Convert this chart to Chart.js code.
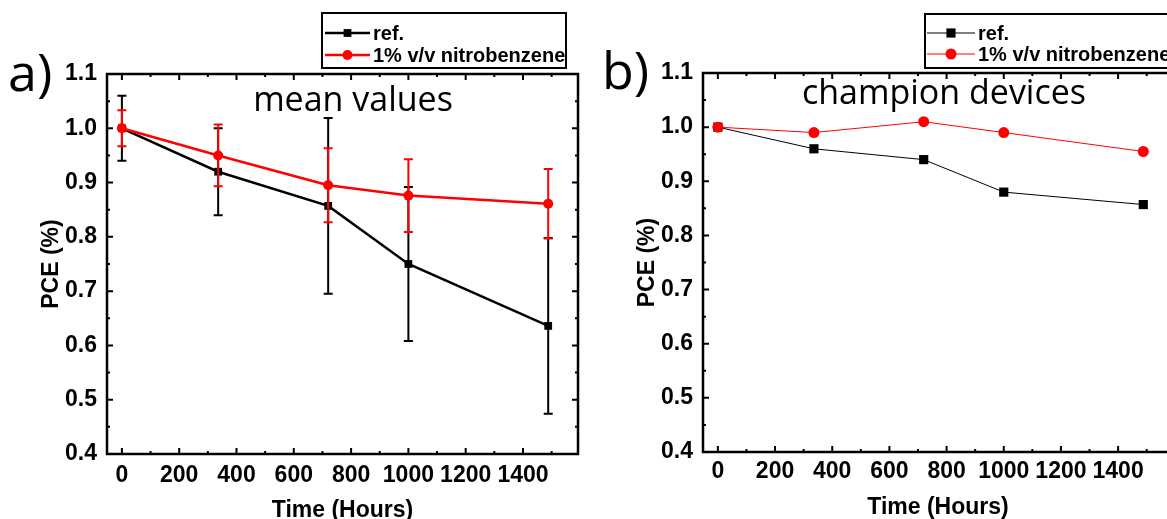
<!DOCTYPE html>
<html><head><meta charset="utf-8">
<script src="https://cdn.jsdelivr.net/npm/chart.js@4.4.0/dist/chart.umd.min.js"></script>
<style>
html,body{margin:0;padding:0;background:#fff;overflow:hidden;width:1167px;height:519px;position:relative;}
.wrap{position:absolute;top:0;}
#wa{left:0;width:590px;height:540px;}
#wb{left:590px;width:600px;height:540px;}
canvas{display:block;}
</style></head><body>
<div id="wa" class="wrap"><canvas id="ca" width="590" height="540"></canvas></div>
<div id="wb" class="wrap"><canvas id="cb" width="600" height="540"></canvas></div>
<script>
// ---- data ----
const timeHours = [0, 336, 720, 1000, 1488];
const meanRef = [1.0, 0.92, 0.857, 0.75, 0.636];
const meanRefErr = [0.06, 0.08, 0.162, 0.142, 0.162];
const meanNB = [1.0, 0.95, 0.895, 0.876, 0.861];
const meanNBErr = [0.033, 0.057, 0.068, 0.067, 0.064];
const champRef = [1.0, 0.96, 0.94, 0.88, 0.857];
const champNB = [1.0, 0.99, 1.01, 0.99, 0.955];
const seriesNames = ['ref.', '1% v/v nitrobenzene'];
const xTickValues = [0, 200, 400, 600, 800, 1000, 1200, 1400];
const yTickValues = [0.4, 0.5, 0.6, 0.7, 0.8, 0.9, 1.0, 1.1];
const xTitle = 'Time (Hours)';
const yTitle = 'PCE (%)';

const SANS = '"Liberation Sans", Arial, sans-serif';
const RED = '#ff0000';

function pts(ys) { return timeHours.map((x, i) => ({x: x, y: ys[i]})); }

function drawMarker(ctx, style, x, y, r, color) {
  ctx.save();
  ctx.fillStyle = color;
  if (style === 'rect') {
    const s = r * Math.SQRT1_2;
    ctx.fillRect(x - s, y - s, 2 * s, 2 * s);
  } else {
    ctx.beginPath(); ctx.arc(x, y, r, 0, Math.PI * 2); ctx.fill();
  }
  ctx.restore();
}

const errorBarPlugin = {
  id: 'errorBars',
  beforeDatasetDraw(chart, args) {
    const ds = chart.data.datasets[args.index];
    if (!ds.errors) return;
    const ctx = chart.ctx, xs = chart.scales.x, ys = chart.scales.y;
    ctx.save();
    ctx.strokeStyle = ds.borderColor;
    ctx.lineWidth = 2;
    ds.data.forEach((p, i) => {
      const e = ds.errors[i];
      const px = xs.getPixelForValue(p.x);
      const y1 = ys.getPixelForValue(p.y + e), y2 = ys.getPixelForValue(p.y - e);
      ctx.beginPath();
      ctx.moveTo(px, y1); ctx.lineTo(px, y2);
      ctx.moveTo(px - 4.5, y1); ctx.lineTo(px + 4.5, y1);
      ctx.moveTo(px - 4.5, y2); ctx.lineTo(px + 4.5, y2);
      ctx.stroke();
    });
    ctx.restore();
  }
};

const framePlugin = {
  id: 'frame',
  afterDatasetsDraw(chart) {
    const ctx = chart.ctx, a = chart.chartArea, xs = chart.scales.x, ys = chart.scales.y;
    ctx.save();
    ctx.strokeStyle = '#000';
    ctx.lineWidth = 2.5;
    ctx.strokeRect(a.left, a.top, a.right - a.left, a.bottom - a.top);
    ctx.lineWidth = 2;
    ctx.beginPath();
    const step = xTickValues[1] - xTickValues[0];
    const xmin = xTickValues.map(v => v + step / 2).filter(v => v <= xs.max);
    xTickValues.forEach(v => { const p = xs.getPixelForValue(v);
      ctx.moveTo(p, a.bottom); ctx.lineTo(p, a.bottom - 6);
      ctx.moveTo(p, a.top); ctx.lineTo(p, a.top + 6); });
    xmin.forEach(v => { const p = xs.getPixelForValue(v);
      ctx.moveTo(p, a.bottom); ctx.lineTo(p, a.bottom - 3);
      ctx.moveTo(p, a.top); ctx.lineTo(p, a.top + 3); });
    const ystep = yTickValues[1] - yTickValues[0];
    yTickValues.forEach(v => { const p = ys.getPixelForValue(v);
      ctx.moveTo(a.left, p); ctx.lineTo(a.left + 6, p);
      ctx.moveTo(a.right, p); ctx.lineTo(a.right - 6, p); });
    yTickValues.slice(0, -1).forEach(v => { const p = ys.getPixelForValue(v + ystep / 2);
      ctx.moveTo(a.left, p); ctx.lineTo(a.left + 3, p);
      ctx.moveTo(a.right, p); ctx.lineTo(a.right - 3, p); });
    ctx.stroke();
    ctx.restore();
  }
};

const decorPlugin = {
  id: 'decor',
  afterDraw(chart, args, o) {
    const ctx = chart.ctx;
    ctx.save();
    ctx.fillStyle = '#000';
    ctx.font = '400 52px "Open Sans", sans-serif';
    ctx.textBaseline = 'alphabetic';
    ctx.textAlign = 'left';
    ctx.fillText(o.letter, o.letterX, o.letterY);
    ctx.font = '400 34px "Open Sans", sans-serif';
    ctx.textAlign = 'center';
    ctx.fillText(o.caption, o.capX, o.capY);
    const L = o.legend;
    ctx.fillStyle = '#fff';
    ctx.fillRect(L.x, L.y, L.w, L.h);
    ctx.strokeStyle = '#000';
    ctx.lineWidth = 2;
    ctx.strokeRect(L.x, L.y, L.w, L.h);
    const items = [
      {name: seriesNames[0], color: '#000', style: 'rect', r: L.rectR, y: L.row1},
      {name: seriesNames[1], color: RED, style: 'circle', r: L.circR, y: L.row2}
    ];
    ctx.font = 'bold 20px ' + SANS;
    ctx.textAlign = 'left';
    ctx.textBaseline = 'middle';
    items.forEach(it => {
      ctx.strokeStyle = it.color;
      ctx.lineWidth = L.lw;
      ctx.beginPath(); ctx.moveTo(L.lx1, it.y); ctx.lineTo(L.lx2, it.y); ctx.stroke();
      drawMarker(ctx, it.style, (L.lx1 + L.lx2) / 2, it.y, it.r, it.color);
      ctx.fillStyle = '#000';
      ctx.fillText(it.name, L.tx, it.y + 1);
    });
    ctx.restore();
  }
};

function makeChart(id, cfg) {
  const tickFont = {family: SANS, size: 23, weight: 'bold'};
  const titleFont = {family: SANS, size: 23, weight: 'bold'};
  return new Chart(document.getElementById(id), {
    type: 'scatter',
    data: {datasets: cfg.datasets},
    options: {
      responsive: false,
      devicePixelRatio: 1,
      animation: false,
      events: [],
      layout: {padding: {left: 0, top: cfg.top, right: cfg.right, bottom: 0}},
      plugins: {legend: {display: false}, tooltip: {enabled: false}, decor: cfg.decor},
      scales: {
        x: {
          type: 'linear', min: -52, max: 1592,
          afterBuildTicks: s => { s.ticks = xTickValues.map(v => ({value: v})); },
          afterFit: s => { s.height = cfg.xAxisH; },
          grid: {display: false, drawTicks: false},
          border: {display: false},
          ticks: {font: tickFont, color: '#000', padding: cfg.xPad, maxRotation: 0, autoSkip: false,
                  callback: v => String(v)},
          title: {display: true, text: xTitle, font: titleFont, color: '#000',
                  padding: {top: 0, bottom: cfg.xTitlePad}}
        },
        y: {
          type: 'linear', min: 0.4, max: 1.1,
          afterBuildTicks: s => { s.ticks = yTickValues.map(v => ({value: v})); },
          afterFit: s => { s.width = cfg.yAxisW; },
          grid: {display: false, drawTicks: false},
          border: {display: false},
          ticks: {font: tickFont, color: '#000', padding: 10, callback: v => Number(v).toFixed(1)},
          title: {display: true, text: yTitle, font: titleFont, color: '#000',
                  padding: {top: cfg.yTitlePad, bottom: 0}}
        }
      }
    },
    plugins: [errorBarPlugin, framePlugin, decorPlugin]
  });
}

// panel a: mean values
makeChart('ca', {
  top: 74, right: 12, xAxisH: 86, yAxisW: 107, xPad: 8, xTitlePad: 15.5, yTitlePad: 38,
  datasets: [
    {label: seriesNames[1], data: pts(meanNB), errors: meanNBErr, showLine: true,
     borderColor: RED, backgroundColor: RED, borderWidth: 2.5,
     pointStyle: 'circle', pointRadius: 5, pointBorderWidth: 0},
    {label: seriesNames[0], data: pts(meanRef), errors: meanRefErr, showLine: true,
     borderColor: '#000', backgroundColor: '#000', borderWidth: 2.5,
     pointStyle: 'rect', pointRadius: 5.5, pointBorderWidth: 0}
  ],
  decor: {letter: 'a)', letterX: 8, letterY: 91, caption: 'mean values', capX: 353, capY: 111,
    legend: {x: 322, y: 13, w: 244, h: 55, row1: 33, row2: 55, lx1: 325, lx2: 370, tx: 373,
             lw: 2.5, rectR: 5.5, circR: 5}}
});

// panel b: champion devices
makeChart('cb', {
  top: 73, right: 17, xAxisH: 88, yAxisW: 113, xPad: 6, xTitlePad: 19, yTitlePad: 44,
  datasets: [
    {label: seriesNames[1], data: pts(champNB), showLine: true,
     borderColor: RED, backgroundColor: RED, borderWidth: 1,
     pointStyle: 'circle', pointRadius: 5.5, pointBorderWidth: 0},
    {label: seriesNames[0], data: pts(champRef), showLine: true,
     borderColor: '#000', backgroundColor: '#000', borderWidth: 1,
     pointStyle: 'rect', pointRadius: 6.5, pointBorderWidth: 0}
  ],
  decor: {letter: 'b)', letterX: 12, letterY: 89, caption: 'champion devices', capX: 354, capY: 104,
    legend: {x: 335, y: 14, w: 250, h: 54, row1: 33, row2: 54, lx1: 337, lx2: 385, tx: 388,
             lw: 1, rectR: 6.5, circR: 5.5}}
});
</script>
</body></html>
